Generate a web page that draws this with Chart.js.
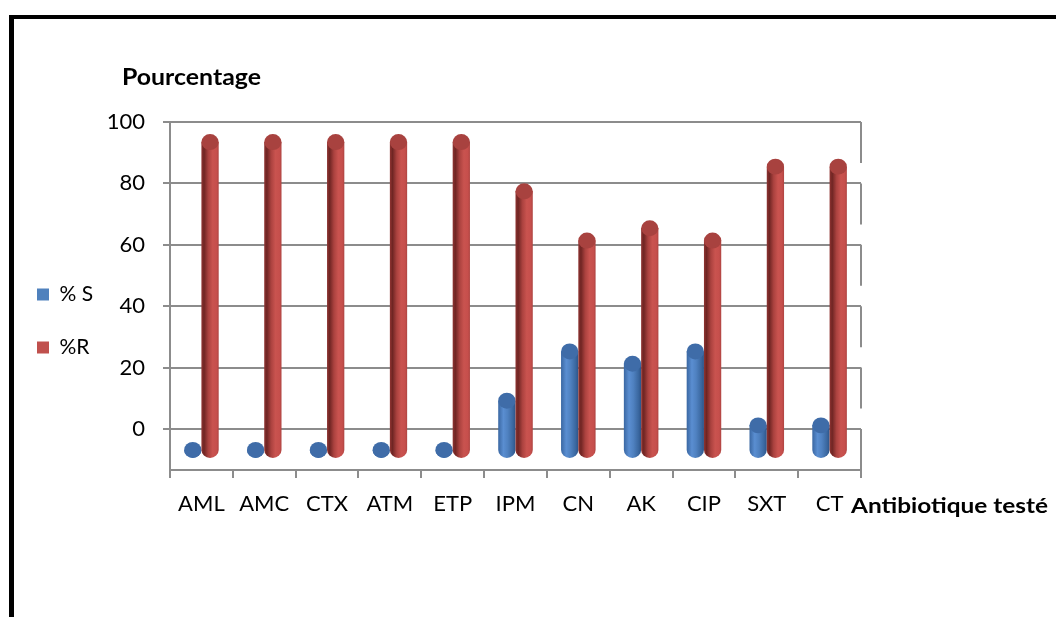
<!DOCTYPE html>
<html>
<head>
<meta charset="utf-8">
<script src="https://cdn.jsdelivr.net/npm/chart.js@4.4.0/dist/chart.umd.min.js"></script>
<style>
  html, body { margin: 0; padding: 0; background: #fff; }
  #wrap { position: relative; width: 1056px; height: 617px; overflow: hidden; }
  #wrap canvas { position: absolute; left: 0; top: 0; }
  #frame {
    position: absolute; left: 9px; top: 15px; width: 1100px; height: 700px;
    border-left: 5px solid #000; border-top: 4px solid #000;
    box-sizing: border-box; pointer-events: none;
  }
</style>
</head>
<body>
<div id="wrap">
  <canvas id="chart" width="1056" height="617"></canvas>
  <div id="frame"></div>
</div>
<script>
// Antibiotics tested and the share of susceptible / resistant isolates (%)
const antibiotics = ['AML', 'AMC', 'CTX', 'ATM', 'ETP', 'IPM', 'CN', 'AK', 'CIP', 'SXT', 'CT'];
const pctSusceptible = [0, 0, 0, 0, 0, 16, 32, 28, 32, 8, 8];
const pctResistant = [100, 100, 100, 100, 100, 84, 68, 72, 68, 92, 92];
const wallTicks = [0, 20, 40, 60, 80, 100];
const seriesNames = ['% S', '%R'];
const yTitle = 'Pourcentage';
const xTitle = 'Antibiotique testé';

const GRID = '#8c8c8c';
const FONT = 'Lato, "Open Sans", sans-serif';

// Cylinder shading for each series
const palettes = [
  { flat: '#4f81bd', cap: '#3f6ca8',
    body: [[0, '#3a67a2'], [0.3, '#5a8ed1'], [0.55, '#4f81c0'], [0.85, '#3a679f'], [1, '#2c5489']] },
  { flat: '#c0504d', cap: '#a8423f',
    body: [[0, '#8f3432'], [0.15, '#6f2523'], [0.4, '#ab423f'], [0.65, '#c9534f'], [0.88, '#c64f4c'], [1, '#ae4441']] }
];

function drawCylinder(ctx, x, top, base, w, pal) {
  const rx = w / 2, ry = w * 0.46;
  const l = x - rx, r = x + rx;
  const g = ctx.createLinearGradient(l, 0, r, 0);
  pal.body.forEach(([o, c]) => g.addColorStop(o, c));
  ctx.save();
  ctx.fillStyle = g;
  ctx.beginPath();
  ctx.moveTo(l, top);
  ctx.lineTo(l, base);
  ctx.ellipse(x, base, rx, ry, 0, Math.PI, 0, true);
  ctx.lineTo(r, top);
  ctx.closePath();
  ctx.fill();
  ctx.fillStyle = pal.cap;
  ctx.beginPath();
  ctx.ellipse(x, top, rx, ry, 0, 0, Math.PI * 2);
  ctx.fill();
  ctx.restore();
}

// Bars are painted as shaded cylinders instead of flat rectangles
const cylinders = {
  id: 'cylinders',
  beforeDatasetsDraw(chart) {
    // side edges of the back wall, one per gridline
    const { ctx, chartArea, scales: { y } } = chart;
    const depth = chartArea.bottom - y.getPixelForValue(0);
    ctx.save();
    ctx.strokeStyle = GRID;
    ctx.lineWidth = 2;
    wallTicks.forEach(v => {
      const py = y.getPixelForValue(v);
      ctx.beginPath();
      ctx.moveTo(chartArea.right, py);
      ctx.lineTo(chartArea.right, py + depth);
      ctx.stroke();
    });
    ctx.restore();
  },
  beforeDatasetDraw() { return false; },
  afterDatasetsDraw(chart) {
    const ctx = chart.ctx;
    chart.data.datasets.forEach((ds, di) => {
      const meta = chart.getDatasetMeta(di);
      if (meta.hidden) return;
      meta.data.forEach(bar => {
        const p = bar.getProps(['x', 'y', 'base', 'width'], true);
        drawCylinder(ctx, p.x, p.y, p.base, p.width, palettes[di]);
      });
    });
  }
};

// Axis titles: one above the value axis, one at the end of the category axis
function wideText(ctx, text, x, y, stretch) {
  ctx.save();
  ctx.translate(x, y);
  ctx.scale(stretch, 1);
  ctx.fillText(text, 0, 0);
  ctx.restore();
}

const axisTitles = {
  id: 'axisTitles',
  afterDraw(chart) {
    const { ctx, chartArea } = chart;
    ctx.save();
    ctx.fillStyle = '#000';
    ctx.textBaseline = 'middle';
    ctx.textAlign = 'left';
    ctx.font = 'bold 22px ' + FONT;
    wideText(ctx, yTitle, chartArea.left - 48, chartArea.top - 44, 1.13);
    ctx.font = 'bold 20px ' + FONT;
    wideText(ctx, xTitle, chartArea.right - 10, chartArea.bottom + 37, 1.22);
    ctx.restore();
  }
};

const PAD_LEFT = 5;
const CHART_LEFT = 170;

function build() {
  new Chart(document.getElementById('chart'), {
    type: 'bar',
    data: {
      labels: antibiotics,
      datasets: [
        { label: seriesNames[0], data: pctSusceptible, yAxisID: 'y2',
          backgroundColor: palettes[0].flat, borderWidth: 0 },
        { label: seriesNames[1], data: pctResistant, yAxisID: 'y2',
          backgroundColor: palettes[1].flat, borderWidth: 0 }
      ]
    },
    options: {
      responsive: false,
      animation: false,
      devicePixelRatio: 1,
      datasets: { bar: { categoryPercentage: 0.55, barPercentage: 1.0 } },
      layout: { padding: { left: PAD_LEFT, top: 122, right: 195, bottom: 97 } },
      plugins: {
        tooltip: { enabled: false },
        title: { display: false },
        legend: {
          position: 'left',
          labels: {
            boxWidth: 12, boxHeight: 12, padding: 32,
            color: '#000', font: { family: FONT, size: 21 }
          }
        }
      },
      scales: {
        x: {
          type: 'category',
          offset: true,
          grid: { drawOnChartArea: false, drawTicks: true, tickLength: 8, color: GRID, lineWidth: 2, offset: true },
          border: { color: GRID, width: 2 },
          ticks: { color: '#000', font: { family: FONT, size: 22 }, padding: 13, maxRotation: 0, autoSkip: false },
          afterFit(s) { s.height = 50; }
        },
        y: {
          type: 'linear',
          position: 'left',
          min: -13.36, max: 100,
          ticks: { stepSize: 20, color: '#000', font: { family: FONT, size: 22 }, padding: 18 },
          grid: { color: GRID, lineWidth: 2, tickLength: 7, drawTicks: true },
          border: { color: GRID, width: 2 },
          afterBuildTicks(s) { s.ticks = wallTicks.map(v => ({ value: v })); },
          afterFit(s) { s.width = Math.max(40, CHART_LEFT - PAD_LEFT - s.chart.legend.width); }
        },
        y2: {
          type: 'linear',
          display: false,
          min: -6.5, max: 106.5
        }
      }
    },
    plugins: [cylinders, axisTitles]
  });
}

if (document.fonts && document.fonts.load) {
  document.fonts.load('21px Lato').then(build, build);
} else {
  build();
}
</script>
</body>
</html>
